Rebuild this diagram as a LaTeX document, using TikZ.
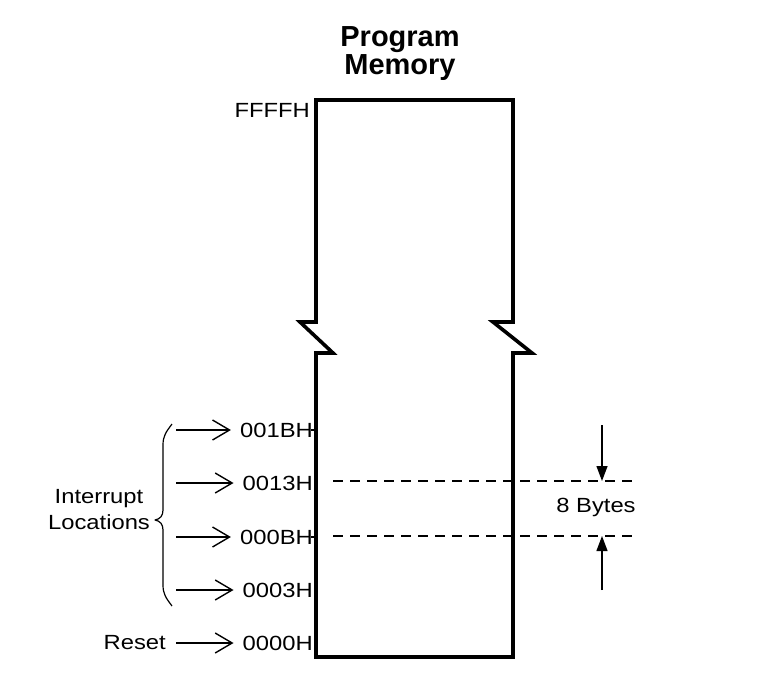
\documentclass[tikz,border=0pt]{standalone}
\usepackage{fontspec}
\setmainfont{Liberation Sans}
\newfontfamily\labfont[FakeStretch=1.16]{Liberation Sans}
\usetikzlibrary{arrows.meta}
\begin{document}
\begin{tikzpicture}[x=1pt,y=-1pt,
  lab/.style={font=\labfont\fontsize{20.5}{26}\selectfont, inner sep=0pt},
  addr/.style={lab, anchor=east},
  ptr/.style={line width=1.4pt, -{Straight Barb[length=17pt,width=20pt,line width=1.4pt]}},
  bytearrow/.style={line width=1.3pt, -{Triangle[length=15pt,width=11pt]}},
  dline/.style={line width=1.2pt, dash pattern=on 10pt off 7pt},
  membox/.style={line width=3.6pt, line join=miter}]
\useasboundingbox (0,0) rectangle (757,680);

% title
\node[font=\bfseries\fontsize{29}{28}\selectfont, align=center, inner sep=0pt] (title) at (400,54) {Program\\Memory};

% memory box with break marks
\draw[membox] (316,322) -- (316,100) -- (513,100) -- (513,322) -- (493,322) -- (532,353)
  -- (513,353) -- (513,657) -- (316,657) -- (316,353) -- (333,353) -- (300,322) -- cycle;

% address labels
\node[addr] (ffff) at (310,110) {FFFFH};
\node[addr] (a1b) at (313,430) {001BH};
\node[addr] (a13) at (313,483) {0013H};
\node[addr] (a0b) at (313,537) {000BH};
\node[addr] (a03) at (313,590) {0003H};
\node[addr] (a00) at (313,643) {0000H};

% small ticks on box edge
\draw[line width=2pt] (311,430) -- (316,430);
\draw[line width=2pt] (311,537) -- (316,537);

% pointer arrows
\coordinate (s1b) at (176,430);
\coordinate (s13) at (176,483);
\coordinate (s0b) at (176,537);
\coordinate (s03) at (176,590);
\coordinate (s00) at (176,643);
\draw[ptr] (s1b) -- ([xshift=-9pt]a1b.west);
\draw[ptr] (s13) -- ([xshift=-9pt]a13.west);
\draw[ptr] (s0b) -- ([xshift=-9pt]a0b.west);
\draw[ptr] (s03) -- ([xshift=-9pt]a03.west);
\draw[ptr] (s00) -- ([xshift=-9pt]a00.west);

% reset label
\node[lab, anchor=east] (reset) at (166,643) {Reset};

% interrupt brace
\draw[line width=1.2pt, line join=round]
  (172,424) .. controls (166,432) and (163,436) .. (163,445)
  -- (163,510) .. controls (163,516) and (160,519) .. (155,520)
  .. controls (160,521) and (163,524) .. (163,530)
  -- (163,585) .. controls (163,594) and (166,598) .. (172,606);
\node[lab, align=center] (intr) at (99,510) {Interrupt\\Locations};

% dashed boundaries
\coordinate (d1s) at (333,481);
\coordinate (d1e) at (636,481);
\coordinate (d2s) at (333,536);
\coordinate (d2e) at (636,536);
\draw[dline] (d1s) -- (d1e);
\draw[dline] (d2s) -- (d2e);

% 8 bytes
\node[lab] (bytes) at (596,507) {8 Bytes};
\coordinate (u0) at (602,425);
\coordinate (u1) at (602,481);
\coordinate (v0) at (602,590);
\coordinate (v1) at (602,536);
\draw[bytearrow] (u0) -- (u1);
\draw[bytearrow] (v0) -- (v1);
\end{tikzpicture}
\end{document}
